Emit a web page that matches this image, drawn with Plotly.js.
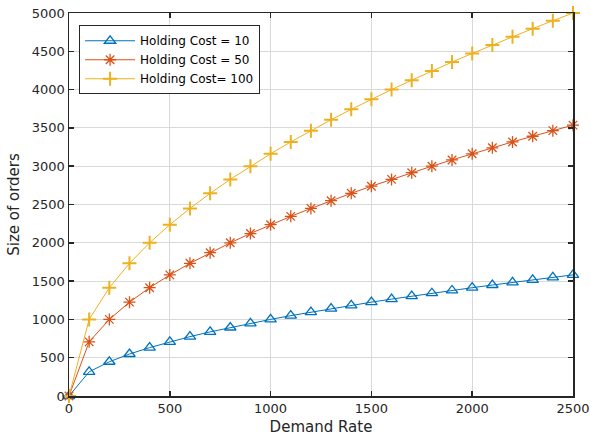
<!DOCTYPE html>
<html><head><meta charset="utf-8">
<script src="https://cdn.plot.ly/plotly-2.35.2.min.js"></script>
<style>body{margin:0;background:#fff}#c{width:590px;height:447px}</style>
</head><body><div id="c"></div>
<script>
const demand = [0,100,200,300,400,500,600,700,800,900,1000,1100,1200,1300,1400,1500,1600,1700,1800,1900,2000,2100,2200,2300,2400,2500];
const cost10 = [0,316,447,548,632,707,775,837,894,949,1000,1049,1095,1140,1183,1225,1265,1304,1342,1378,1414,1449,1483,1517,1549,1581];
const cost50 = [0,707,1000,1225,1414,1581,1732,1871,2000,2121,2236,2345,2449,2550,2646,2739,2828,2915,3000,3082,3162,3240,3317,3391,3464,3536];
const cost100 = [0,1000,1414,1732,2000,2236,2449,2646,2828,3000,3162,3317,3464,3606,3742,3873,4000,4123,4243,4359,4472,4583,4690,4796,4899,5000];
const names = ['Holding Cost = 10','Holding Cost = 50','Holding Cost= 100'];
const colors = ['#0072BD','#D95319','#EDB120'];
const symbols = ['triangle-up-open','asterisk-open','cross-thin-open'];
const series = [cost10, cost50, cost100];
const traces = series.map((ys,i)=>({
  x: demand, y: ys, name: names[i], type:'scatter', mode:'lines+markers',
  line:{color:colors[i], width:1},
  marker:{symbol:symbols[i], size:10, color:colors[i], line:{color:colors[i], width:i===2?2:1.3}},
  cliponaxis:false
}));
const F = 'DejaVu Sans, sans-serif';
const axisCommon = {
  showline:true, mirror:'ticks', linecolor:'#262626', linewidth:1.5,
  ticks:'inside', ticklen:5, tickcolor:'#262626', tickwidth:1.5,
  showgrid:true, gridcolor:'#d9d9d9', gridwidth:1, zeroline:false,
  tickfont:{family:F, size:13, color:'#262626'}
};
const layout = {
  width:590, height:447, paper_bgcolor:'#fff', plot_bgcolor:'#fff',
  margin:{l:69, r:17, t:13, b:51},
  showlegend:true,
  xaxis: Object.assign({}, axisCommon, {range:[0,2500], tickvals:[0,500,1000,1500,2000,2500],
    title:{text:'Demand Rate', font:{family:F, size:15, color:'#262626'}, standoff:6}}),
  yaxis: Object.assign({}, axisCommon, {range:[0,5000], dtick:500,
    title:{text:'Size of orders', font:{family:F, size:15, color:'#262626'}, standoff:8}}),
  legend:{x:0.02, y:0.968, xanchor:'left', yanchor:'top', bgcolor:'#fff', bordercolor:'#262626', borderwidth:1,
    font:{family:F, size:12, color:'#000'}, tracegroupgap:0, itemwidth:50}
};
Plotly.newPlot('c', traces, layout, {displayModeBar:false, staticPlot:true});
</script></body></html>
